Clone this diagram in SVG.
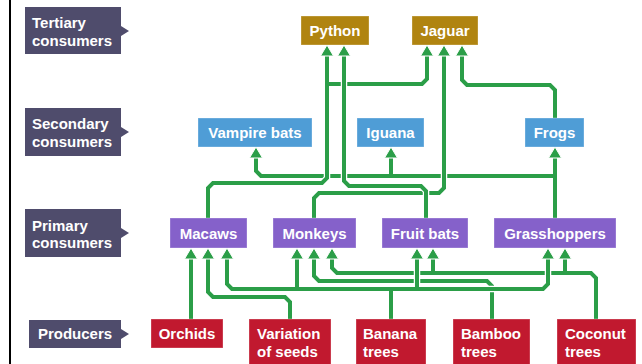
<svg xmlns="http://www.w3.org/2000/svg" xmlns:xlink="http://www.w3.org/1999/xlink" width="642" height="364" viewBox="0 0 642 364">
<style>
  text { font-family: "Liberation Sans", Arial, sans-serif; font-weight: bold; font-size: 15px; fill: #ffffff; }
  .c { text-anchor: middle; }
  .lab { fill: #4f4c6c; }
  .ter { fill: #b08410; }
  .sec { fill: #4f9dd6; }
  .pri { fill: #8561ca; }
  .pro { fill: #c1192f; }
  .box { stroke: #ffffff; stroke-opacity: 0.3; stroke-width: 1; }
  .casing { fill: none; stroke: #ffffff; stroke-width: 6.5; stroke-linejoin: miter; }
  .line { fill: none; stroke: #2b9e48; stroke-width: 4; stroke-linejoin: miter; }
  .ah { fill: #2b9e48; stroke: #ffffff; stroke-width: 1; }
</style>
<defs>
  <polygon id="ah" points="0,0 6.5,11 -6.5,11"/>
  <path id="p5" d="M555,218 V157 M555,176 H261 L256,171 V157 M391,176 V157"/>
  <path id="p4" d="M555,118 V90 L550,85 H467 L462,80 V55"/>
  <path id="p1" d="M208,218 V188 L213,183 H322 L327,178 V55 M327,84 H422 L427,79 V55"/>
  <path id="p3" d="M314,218 V198 L319,193 H439 L444,188 V55"/>
  <path id="p2" d="M426,218 V191 L421,186 H349 L344,181 V55"/>
  <path id="p10" d="M596,319 V278 L591,273 H337 L332,268 V258 M433,273 V258 M565,273 V258"/>
  <path id="p9" d="M492,319 V286 L487,281 H319 L314,276 V258"/>
  <path id="p7" d="M290,319 V302 L285,297 H213 L208,292 V258"/>
  <path id="p6" d="M191,319 V258"/>
  <path id="p8" d="M391,319 V289 M227,258 V284 L232,289 H543 L548,284 V258 M297,289 V258 M417,289 V258"/>
</defs>

<rect x="9" y="0" width="2" height="364" fill="#000000"/>

<g id="connectors">
  <use href="#p5" class="casing"/><use href="#p5" class="line"/>
  <use href="#p4" class="casing"/><use href="#p4" class="line"/>
  <use href="#p1" class="casing"/><use href="#p1" class="line"/>
  <use href="#p3" class="casing"/><use href="#p3" class="line"/>
  <use href="#p2" class="casing"/><use href="#p2" class="line"/>
  <use href="#p10" class="casing"/><use href="#p10" class="line"/>
  <use href="#p9" class="casing"/><use href="#p9" class="line"/>
  <use href="#p7" class="casing"/><use href="#p7" class="line"/>
  <use href="#p6" class="casing"/><use href="#p6" class="line"/>
  <use href="#p8" class="casing"/><use href="#p8" class="line"/>
  <g class="ah">
    <use href="#ah" x="327" y="45"/>
    <use href="#ah" x="344" y="45"/>
    <use href="#ah" x="427" y="45"/>
    <use href="#ah" x="444" y="45"/>
    <use href="#ah" x="462" y="45"/>
    <use href="#ah" x="256" y="147"/>
    <use href="#ah" x="391" y="147"/>
    <use href="#ah" x="555" y="147"/>
    <use href="#ah" x="191" y="248"/>
    <use href="#ah" x="208" y="248"/>
    <use href="#ah" x="227" y="248"/>
    <use href="#ah" x="297" y="248"/>
    <use href="#ah" x="314" y="248"/>
    <use href="#ah" x="332" y="248"/>
    <use href="#ah" x="417" y="248"/>
    <use href="#ah" x="433" y="248"/>
    <use href="#ah" x="548" y="248"/>
    <use href="#ah" x="565" y="248"/>
  </g>
</g>

<g id="label-tertiary">
  <path class="lab" d="M25,7 H121 V26 L129,31 L121,36 V54 H25 Z"/>
  <text x="32" y="28">Tertiary</text>
  <text x="32" y="46">consumers</text>
</g>
<g id="label-secondary">
  <path class="lab" d="M25,108 H121 V127 L129,132 L121,137 V156 H25 Z"/>
  <text x="32" y="129">Secondary</text>
  <text x="32" y="147">consumers</text>
</g>
<g id="label-primary">
  <path class="lab" d="M25,209 H121 V228 L129,233 L121,238 V257 H25 Z"/>
  <text x="32" y="231">Primary</text>
  <text x="32" y="248">consumers</text>
</g>
<g id="label-producers">
  <path class="lab" d="M29,320 H121 V329 L129,334 L121,339 V348 H29 Z"/>
  <text x="75" y="339" class="c">Producers</text>
</g>

<g id="python"><rect class="ter box" x="301" y="16" width="68" height="29"/><text class="c" x="335" y="36">Python</text></g>
<g id="jaguar"><rect class="ter box" x="412" y="16" width="66" height="29"/><text class="c" x="445" y="36">Jaguar</text></g>

<g id="vampire-bats"><rect class="sec box" x="198" y="118" width="114" height="29"/><text class="c" x="255" y="138">Vampire bats</text></g>
<g id="iguana"><rect class="sec box" x="357" y="118" width="67" height="29"/><text class="c" x="390.5" y="138">Iguana</text></g>
<g id="frogs"><rect class="sec box" x="525" y="118" width="59" height="29"/><text class="c" x="554.5" y="138">Frogs</text></g>

<g id="macaws"><rect class="pri box" x="170" y="218" width="77" height="30"/><text class="c" x="208.5" y="239">Macaws</text></g>
<g id="monkeys"><rect class="pri box" x="273" y="218" width="83" height="30"/><text class="c" x="314.5" y="239">Monkeys</text></g>
<g id="fruit-bats"><rect class="pri box" x="382" y="218" width="86" height="30"/><text class="c" x="425" y="239">Fruit bats</text></g>
<g id="grasshoppers"><rect class="pri box" x="494" y="218" width="122" height="30"/><text class="c" x="555" y="239">Grasshoppers</text></g>

<g id="orchids"><rect class="pro box" x="151" y="319" width="72" height="29"/><text class="c" x="187" y="339">Orchids</text></g>
<g id="variation-of-seeds"><rect class="pro box" x="249" y="319" width="82" height="50"/><text x="257" y="339">Variation</text><text x="257" y="357">of seeds</text></g>
<g id="banana-trees"><rect class="pro box" x="356" y="319" width="70" height="50"/><text x="363" y="339">Banana</text><text x="363" y="357">trees</text></g>
<g id="bamboo-trees"><rect class="pro box" x="453" y="319" width="77" height="50"/><text x="461" y="339">Bamboo</text><text x="461" y="357">trees</text></g>
<g id="coconut-trees"><rect class="pro box" x="557" y="319" width="79" height="50"/><text x="565" y="339">Coconut</text><text x="565" y="357">trees</text></g>
</svg>
